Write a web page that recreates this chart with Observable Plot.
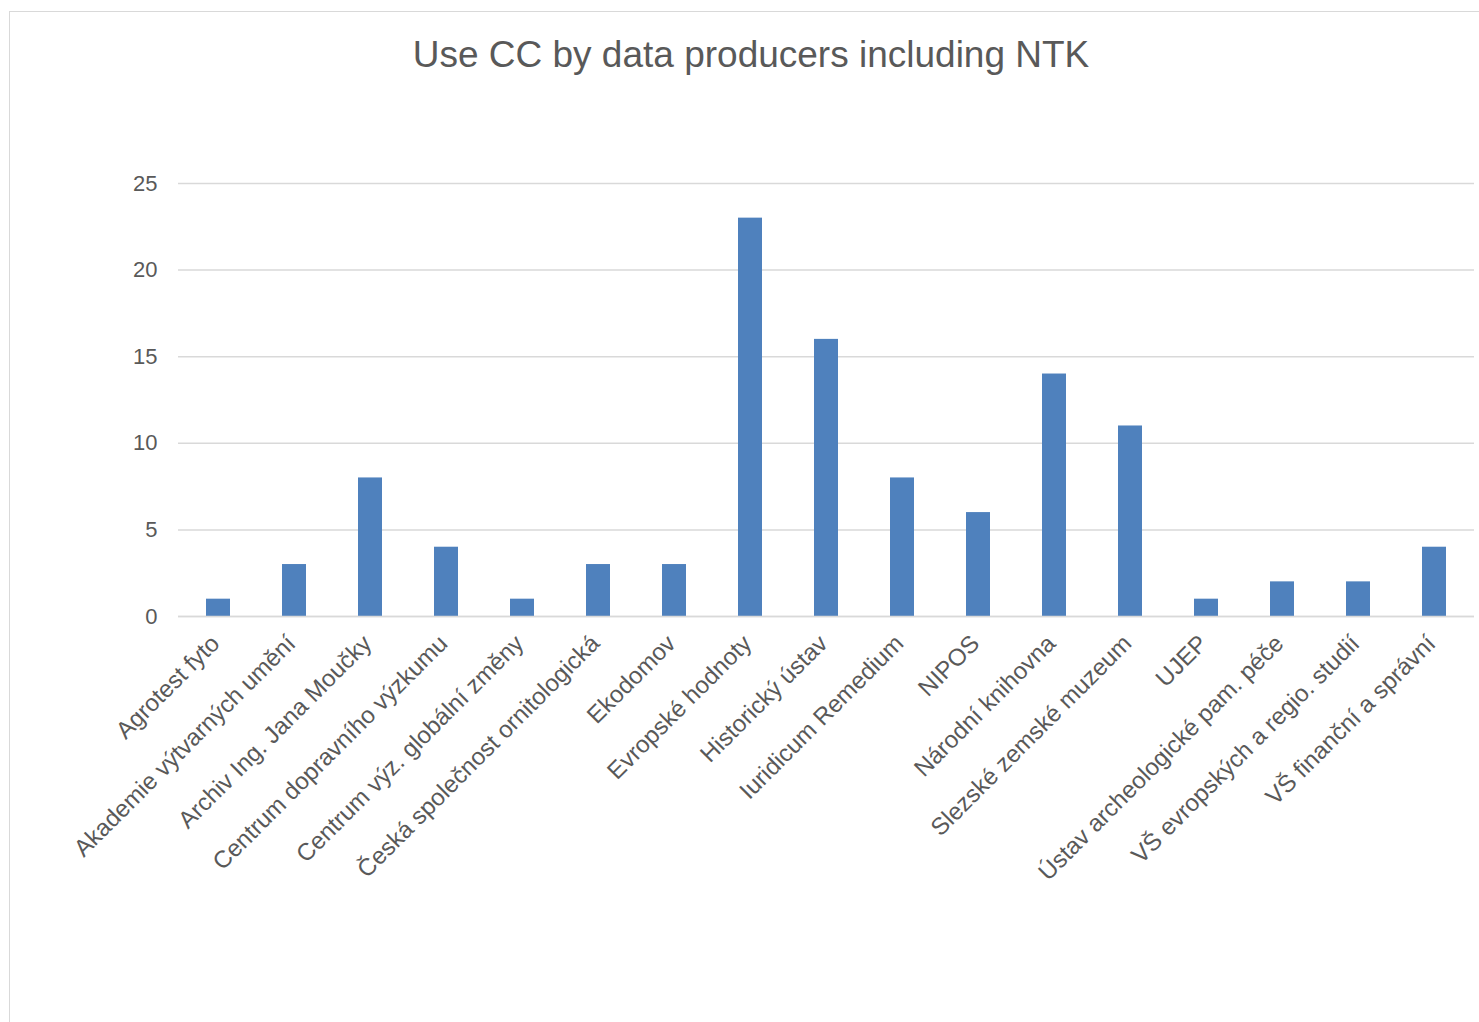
<!DOCTYPE html>
<html>
<head>
<meta charset="utf-8">
<script src="https://cdn.jsdelivr.net/npm/d3@7"></script>
<script src="https://cdn.jsdelivr.net/npm/@observablehq/plot@0.6"></script>
<style>
  html, body { margin: 0; padding: 0; background: #fff; overflow: hidden; }
  body { width: 1479px; height: 1022px; position: relative; font-family: "Liberation Sans", Arial, sans-serif; }
  #frame { position: absolute; left: 9px; top: 11px; width: 1490px; height: 1030px; border: 1.5px solid #d9d9d9; box-sizing: border-box; }
  #title { position: absolute; left: 9px; width: 1484px; top: 31px; text-align: center; font-size: 37px; color: #595959; line-height: 48px; }
  #chart { position: absolute; left: 0; top: 0; }
</style>
</head>
<body>
<div id="frame"></div>
<div id="chart"></div>
<div id="title">Use CC by data producers including NTK</div>
<script>
const categories = [
  "Agrotest fyto",
  "Akademie výtvarných umění",
  "Archiv Ing. Jana Moučky",
  "Centrum dopravního výzkumu",
  "Centrum výz. globální změny",
  "Česká společnost ornitologická",
  "Ekodomov",
  "Evropské hodnoty",
  "Historický ústav",
  "Iuridicum Remedium",
  "NIPOS",
  "Národní knihovna",
  "Slezské zemské muzeum",
  "UJEP",
  "Ústav archeologické pam. péče",
  "VŠ evropských a regio. studií",
  "VŠ finanční a správní"
];
const values = [1, 3, 8, 4, 1, 3, 3, 23, 16, 8, 6, 14, 11, 1, 2, 2, 4];
const yTicks = [0, 5, 10, 15, 20, 25];

const data = categories.map((c, i) => ({category: c, value: values[i]}));

const textColor = "#595959";
const gridColor = "#d9d9d9";

const chart = Plot.plot({
  width: 1479,
  height: 1022,
  marginLeft: 178,
  marginRight: 5,
  marginTop: 183,
  marginBottom: 406,
  style: {fontFamily: "'Liberation Sans', Arial, sans-serif", background: "transparent", overflow: "visible"},
  x: {domain: categories, paddingInner: 0.685, paddingOuter: 0.3425, label: null},
  y: {domain: [0, 25], label: null},
  marks: [
    Plot.gridY(yTicks, {stroke: gridColor, strokeOpacity: 1, strokeWidth: 1.5}),
    Plot.barY(data, {x: "category", y: "value", fill: "#4f81bd"}),
    Plot.ruleY([0], {stroke: gridColor, strokeWidth: 1.5}),
    Plot.axisY(yTicks, {tickSize: 0, tickPadding: 21, fontSize: 22, color: textColor, label: null}),
    Plot.axisX({tickSize: 0, tickPadding: 23, dx: -3, tickRotate: -45, fontSize: 24, color: textColor, label: null})
  ]
});
document.getElementById("chart").appendChild(chart);
</script>
</body>
</html>
